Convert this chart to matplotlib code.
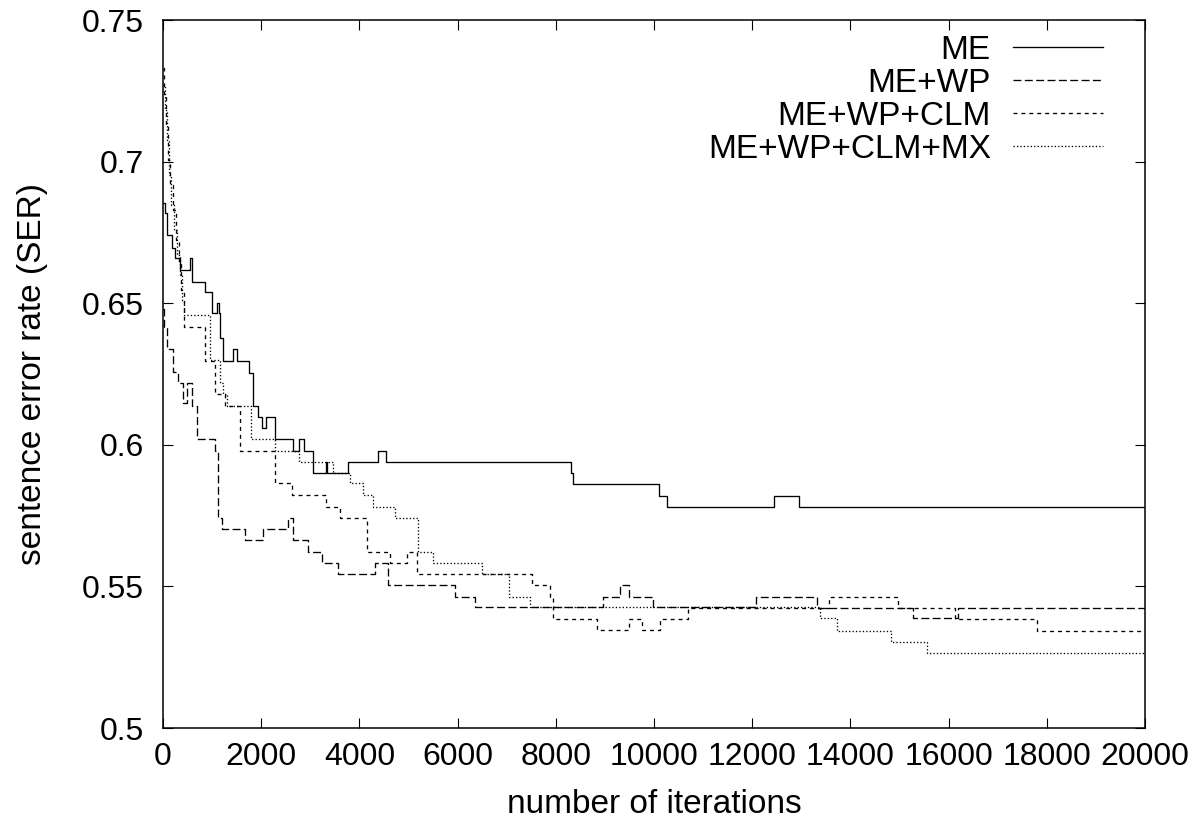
import matplotlib
matplotlib.use("Agg")
import matplotlib.pyplot as plt

plt.rcParams['font.family'] = ['Liberation Sans', 'DejaVu Sans']

# ---- data (step curves, value holds until next iteration) ----
me_iter = [0, 41, 81, 183, 244, 346, 550, 597, 855, 992, 1094, 1147, 1161, 1228,
           1432, 1513, 1758, 1839, 1929, 2010, 2098, 2281, 2642, 2776, 2872, 3061,
           3314, 3340, 3762, 4385, 4542, 8304, 8357, 10108, 10271, 12450, 12947, 20000]
me_ser = [0.6854, 0.6819, 0.6741, 0.6695, 0.6660, 0.6617, 0.6660, 0.6576, 0.6541,
          0.6465, 0.6501, 0.6465, 0.6377, 0.6297, 0.6337, 0.6297, 0.6255, 0.6137,
          0.6097, 0.6058, 0.6099, 0.6019, 0.5979, 0.6019, 0.5979, 0.5899, 0.5940,
          0.5899, 0.5940, 0.5979, 0.5940, 0.5899, 0.5860, 0.5820, 0.5781, 0.5820,
          0.5781, 0.5781]

wp_iter = [0, 20, 88, 210, 312, 413, 483, 585, 699, 1059, 1120, 1196, 1670, 2043,
           2552, 2654, 2953, 3232, 3570, 4318, 4589, 5947, 6355, 8968, 9314, 9497,
           9986, 12078, 13314, 15281, 16198, 20000]
wp_ser = [0.6480, 0.6416, 0.6337, 0.6257, 0.6219, 0.6148, 0.6219, 0.6137, 0.6019,
          0.5979, 0.5742, 0.5702, 0.5664, 0.5702, 0.5742, 0.5664, 0.5623, 0.5584,
          0.5544, 0.5584, 0.5505, 0.5464, 0.5428, 0.5464, 0.5505, 0.5464, 0.5428,
          0.5464, 0.5425, 0.5387, 0.5425, 0.5425]

clm_iter = [0, 20, 61, 102, 143, 204, 265, 326, 367, 428, 855, 1059, 1263, 1568,
            2281, 2621, 3314, 3605, 4149, 4623, 4963, 5167, 7509, 7882, 7949, 8833,
            9491, 9762, 10122, 10699, 13571, 14976, 16131, 17795, 20000]
clm_ser = [0.7331, 0.7235, 0.7129, 0.7006, 0.6917, 0.6829, 0.6723, 0.6645, 0.6547,
           0.6417, 0.6296, 0.6178, 0.6137, 0.5979, 0.5866, 0.5823, 0.5781, 0.5740,
           0.5623, 0.5584, 0.5623, 0.5544, 0.5505, 0.5464, 0.5385, 0.5346, 0.5385,
           0.5346, 0.5385, 0.5424, 0.5464, 0.5425, 0.5384, 0.5344, 0.5344]

mx_iter = [0, 41, 81, 122, 163, 224, 285, 346, 387, 428, 957, 1161, 1222, 1297,
           1786, 2281, 2776, 3469, 3809, 4080, 4283, 4725, 5200, 5505, 6491, 7053,
           7475, 13381, 13721, 14821, 15566, 20000]
mx_ser = [0.7270, 0.7182, 0.7076, 0.6953, 0.6847, 0.6758, 0.6670, 0.6600, 0.6511,
          0.6458, 0.6299, 0.6217, 0.6179, 0.6137, 0.6019, 0.5979, 0.5940, 0.5899,
          0.5864, 0.5823, 0.5781, 0.5740, 0.5623, 0.5582, 0.5544, 0.5464, 0.5428,
          0.5387, 0.5344, 0.5305, 0.5266, 0.5266]

labels = ["ME", "ME+WP", "ME+WP+CLM", "ME+WP+CLM+MX"]
x_ticks = [0, 2000, 4000, 6000, 8000, 10000, 12000, 14000, 16000, 18000, 20000]
y_ticks = [0.5, 0.55, 0.6, 0.65, 0.7, 0.75]
y_tick_labels = ["0.5", "0.55", "0.6", "0.65", "0.7", "0.75"]

# ---- figure ----
fig = plt.figure(figsize=(12.02, 8.25), dpi=100)
ax = fig.add_axes([163 / 1202, 1 - 728 / 825, 982 / 1202, 708 / 825])

lw = 0.95
series = [(me_iter, me_ser, '-'),
          (wp_iter, wp_ser, (0, (6.0, 2.6))),
          (clm_iter, clm_ser, (0, (3.0, 3.0))),
          (mx_iter, mx_ser, (0, (1.0, 1.6)))]
for (xs, ys, ls), lab in zip(series, labels):
    ax.plot(xs, ys, drawstyle='steps-post', color='black', lw=lw,
            linestyle=ls, label=lab)

ax.set_xlim(0, 20000)
ax.set_ylim(0.5, 0.75)
ax.set_xticks(x_ticks)
ax.set_xticklabels([str(t) for t in x_ticks])
ax.set_yticks(y_ticks)
ax.set_yticklabels(y_tick_labels)

fs = 23
fs_lab = 24
ax.tick_params(axis='both', which='both', direction='in', top=True, right=True,
               length=7, width=0.8, labelsize=fs)
ax.tick_params(axis='y', pad=14)
ax.tick_params(axis='x', pad=10)
for sp in ax.spines.values():
    sp.set_linewidth(1.1)

ax.set_xlabel("number of iterations", fontsize=fs_lab)
ax.set_ylabel("sentence error rate (SER)", fontsize=fs_lab)
ax.xaxis.set_label_coords(0.5, -0.086)
ax.yaxis.set_label_coords(-0.117, 0.5)

ax.legend(loc='upper right', bbox_to_anchor=(0.957, 0.979), markerfirst=False,
          frameon=False, fontsize=fs_lab, handlelength=2.7, handletextpad=0.66,
          labelspacing=0.06, borderpad=0, borderaxespad=0)

fig.savefig("out.png", dpi=100)
